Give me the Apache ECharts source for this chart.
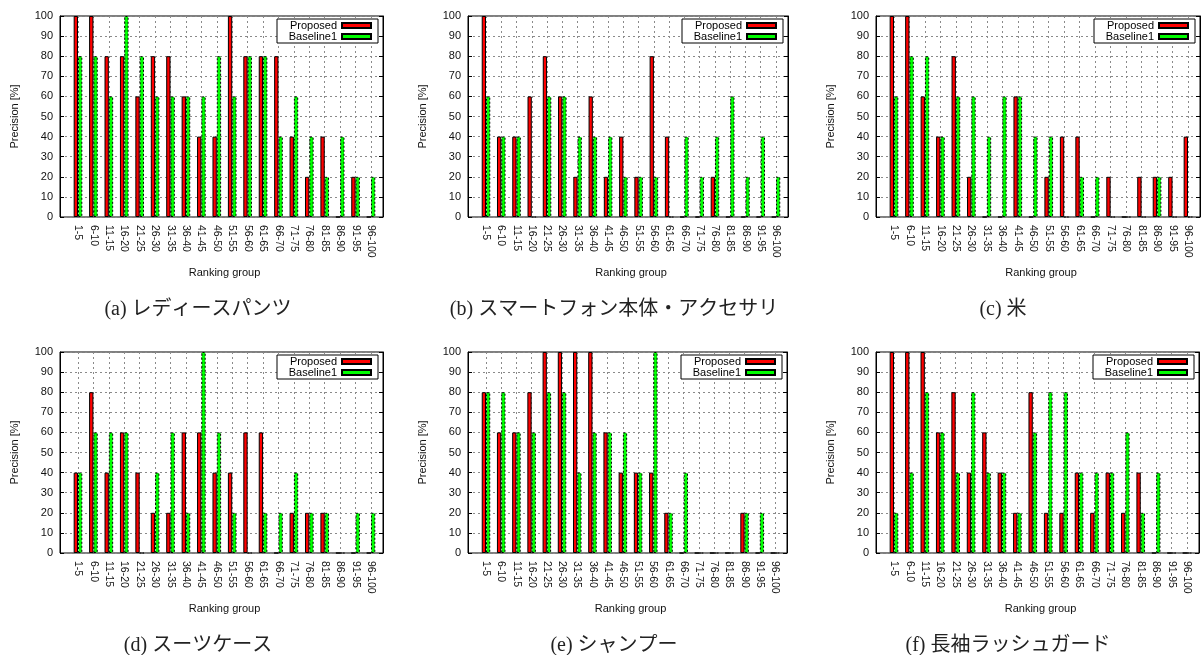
<!DOCTYPE html>
<html><head><meta charset="utf-8">
<script src="https://cdn.jsdelivr.net/npm/echarts@6/dist/echarts.min.js"></script>
<style>html,body{margin:0;padding:0;background:#fff}#c{width:1202px;height:655px}</style>
</head><body><div id="c"></div>
<script>
// ---- data ----
const categories = ['1-5','6-10','11-15','16-20','21-25','26-30','31-35','36-40','41-45','46-50',
  '51-55','56-60','61-65','66-70','71-75','76-80','81-85','86-90','91-95','96-100'];
const seriesNames = ['Proposed', 'Baseline1'];
const yAxisName = 'Precision [%]';
const xAxisName = 'Ranking group';
const captions = ['(a) レディースパンツ', '(b) スマートフォン本体・アクセサリ', '(c) 米',
  '(d) スーツケース', '(e) シャンプー', '(f) 長袖ラッシュガード'];

const propA = [100,100,80,80,60,80,80,60,40,40,100,80,80,80,40,20,40,0,20,0];
const baseA = [80,80,60,100,80,60,60,60,60,80,60,80,80,40,60,40,20,40,20,20];
const propB = [100,40,40,60,80,60,20,60,20,40,20,80,40,0,0,20,0,0,0,0];
const baseB = [60,40,40,0,60,60,40,40,40,20,20,20,0,40,20,40,60,20,40,20];
const propC = [100,100,60,40,80,20,0,0,60,0,20,40,40,0,20,0,20,20,20,40];
const baseC = [60,80,80,40,60,60,40,60,60,40,40,0,20,20,0,0,0,20,0,0];
const propD = [40,80,40,60,40,20,20,60,60,40,40,60,60,0,20,20,20,0,0,0];
const baseD = [40,60,60,60,0,40,60,20,100,60,20,0,20,20,40,20,20,0,20,20];
const propE = [80,60,60,80,100,100,100,100,60,40,40,40,20,0,0,0,0,20,0,0];
const baseE = [80,80,60,60,80,80,40,60,60,60,40,100,20,40,0,0,0,20,20,0];
const propF = [100,100,100,60,80,40,60,40,20,80,20,20,40,20,40,20,40,0,0,0];
const baseF = [20,40,80,60,40,80,40,40,20,60,80,80,40,40,40,60,20,40,0,0];

const proposedSets = [propA, propB, propC, propD, propE, propF];
const baselineSets = [baseA, baseB, baseC, baseD, baseE, baseF];

// ---- layout ----
const W = 1202;
const panels = [
  {left: 60,  top: 16,  width: 323, cap: 198},
  {left: 468, top: 16,  width: 320, cap: 614},
  {left: 876, top: 16,  width: 324, cap: 1003},
  {left: 60,  top: 352, width: 323, cap: 198},
  {left: 468, top: 352, width: 319, cap: 614},
  {left: 876, top: 352, width: 323, cap: 1008}
];
const PH = 201;
const PAD_L = 18, PAD_R = 12;
const FONT = '"Liberation Sans", Arial, Helvetica, sans-serif';
const dotted = {color: '#8a8a8a', width: 1, type: [2, 3]};
const n = categories.length;

const option = {
  animation: false,
  textStyle: {fontFamily: FONT, color: '#111'},
  grid: [], xAxis: [], yAxis: [], series: [], legend: [], title: []
};

panels.forEach((p, i) => {
  const cw = (p.width - PAD_L - PAD_R) / (n - 1);
  const innerLeft = p.left + PAD_L - cw / 2;
  // outer frame grid
  option.grid.push({left: p.left, top: p.top, width: p.width, height: PH,
    show: true, borderColor: '#000', borderWidth: 1, backgroundColor: 'transparent'});
  // inner grid for bars
  option.grid.push({left: innerLeft, top: p.top, width: cw * n, height: PH, show: false});

  option.xAxis.push({type: 'value', gridIndex: 2 * i, min: 0, max: 1, show: false});
  option.xAxis.push({
    type: 'category', gridIndex: 2 * i + 1, data: categories, position: 'bottom',
    axisLine: {show: false},
    axisTick: {inside: true, length: 4, alignWithLabel: true, lineStyle: {color: '#000'}},
    axisLabel: {rotate: -90, interval: 0, fontSize: 10.5, margin: 8, color: '#111', fontFamily: FONT},
    splitLine: {show: true, alignWithLabel: true, interval: 0, lineStyle: dotted},
    name: xAxisName, nameLocation: 'middle', nameGap: 50,
    nameTextStyle: {fontSize: 11, color: '#111', fontFamily: FONT}
  });
  option.xAxis.push({
    type: 'category', gridIndex: 2 * i + 1, data: categories, position: 'top',
    axisLine: {show: false},
    axisTick: {inside: true, length: 4, alignWithLabel: true, lineStyle: {color: '#000'}},
    axisLabel: {show: false}, splitLine: {show: false}
  });

  option.yAxis.push({
    type: 'value', gridIndex: 2 * i, min: 0, max: 100, interval: 10, position: 'left',
    axisLine: {show: true, lineStyle: {color: '#000', width: 1}},
    axisTick: {show: true, inside: true, length: 4, lineStyle: {color: '#000'}},
    axisLabel: {fontSize: 11, margin: 7, color: '#111', fontFamily: FONT},
    splitLine: {show: true, lineStyle: dotted},
    name: yAxisName, nameLocation: 'middle', nameGap: 40, nameRotate: 90,
    nameTextStyle: {fontSize: 11, color: '#111', fontFamily: FONT}
  });
  option.yAxis.push({
    type: 'value', gridIndex: 2 * i, min: 0, max: 100, interval: 10, position: 'right',
    axisLine: {show: true, lineStyle: {color: '#000', width: 1}},
    axisTick: {show: true, inside: true, length: 4, lineStyle: {color: '#000'}},
    axisLabel: {show: false}, splitLine: {show: false}
  });
  option.yAxis.push({
    type: 'value', gridIndex: 2 * i + 1, min: 0, max: 100, interval: 10, show: false
  });

  option.series.push({
    type: 'bar', name: seriesNames[0], xAxisIndex: 3 * i + 1, yAxisIndex: 3 * i + 2,
    data: proposedSets[i], barWidth: '28%', barGap: '0%',
    itemStyle: {color: '#ff0000', borderColor: '#000', borderWidth: 1}
  });
  option.series.push({
    type: 'bar', name: seriesNames[1], xAxisIndex: 3 * i + 1, yAxisIndex: 3 * i + 2,
    data: baselineSets[i], barWidth: '28%', barGap: '0%',
    itemStyle: {color: '#00ff00', borderColor: '#000', borderWidth: 1, borderType: [2, 2]}
  });
  option.legend.push({
    data: seriesNames, orient: 'vertical', align: 'right',
    right: W - (p.left + p.width - 5), top: p.top + 3,
    itemWidth: 29, itemHeight: 5, itemGap: 0,
    borderColor: '#000', borderWidth: 1, backgroundColor: '#fff',
    padding: [1, 6, 1, 8], icon: 'rect', selectedMode: false,
    textStyle: {fontSize: 11, color: '#000', fontFamily: FONT, lineHeight: 11,
      width: 52, align: 'right'}
  });
  option.title.push({
    text: captions[i], left: p.cap, top: p.top + 284, textAlign: 'center', padding: 0,
    textStyle: {fontSize: 20, fontWeight: 'normal', color: '#222',
      fontFamily: '"Liberation Serif", "DejaVu Serif", "Noto Sans CJK JP", serif'}
  });
});

const chart = echarts.init(document.getElementById('c'), null, {renderer: 'canvas'});
chart.setOption(option);
</script>
</body></html>
